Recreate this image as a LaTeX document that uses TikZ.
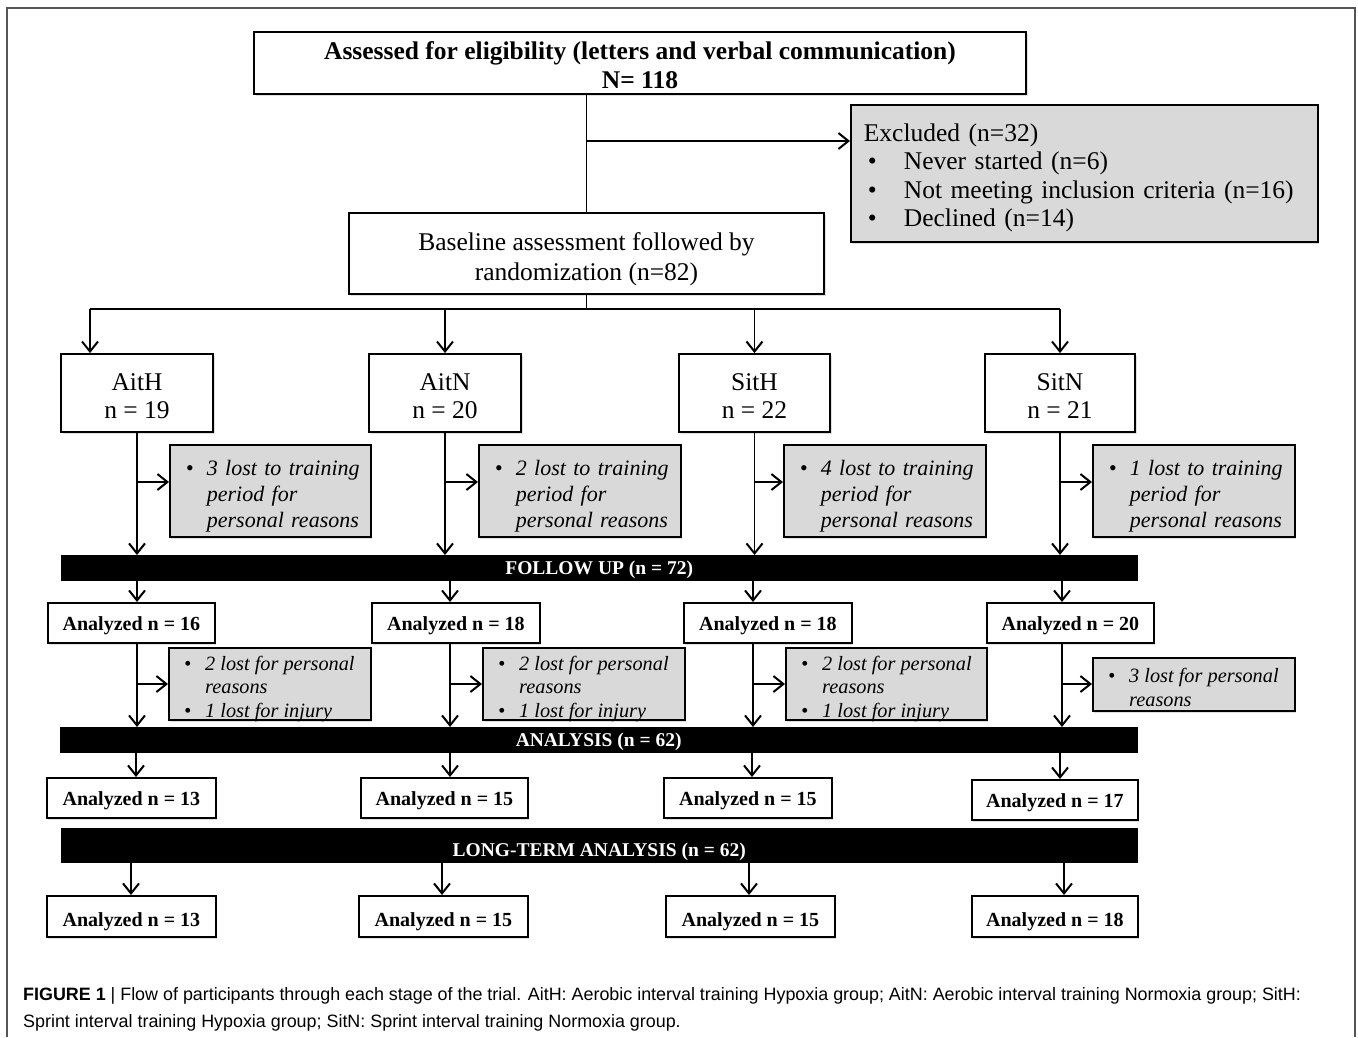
\documentclass[tikz,border=0pt]{standalone}
\usepackage{fontspec}
\setmainfont{Liberation Serif}
\newfontfamily\capfont{Liberation Sans}
\usetikzlibrary{arrows.meta,shadows}
\definecolor{boxgray}{RGB}{217,217,217}
\definecolor{framegray}{RGB}{85,85,85}
\newcommand\dn[1]{\rule{0pt}{#1}}
\begin{document}
\begin{tikzpicture}[x=1pt,y=-1pt,
  shadowed/.style={drop shadow={shadow xshift=1.5pt,shadow yshift=-2pt,opacity=0.25}},
  box/.style={draw=black,line width=1.8pt,fill=white,inner sep=0pt,align=center,shadowed},
  tlbox/.style={box,anchor=north west},
  graybox/.style={draw=black,line width=1.8pt,fill=boxgray,anchor=north west,inner ysep=0pt,align=left,shadowed},
  gbox/.style={draw=black,line width=1.8pt,fill=boxgray,anchor=north west,inner sep=0pt,shadowed},
  ttext/.style={anchor=base west,inner sep=0pt,font=\fontsize{20.3}{23.5}\selectfont\itshape},
  bar/.style={fill=black,draw=black,anchor=north west,inner sep=0pt,text=white,font=\fontsize{19.5}{22}\selectfont\bfseries},
  grp/.style={box,font=\fontsize{25.5}{28}\selectfont},
  anl/.style={tlbox,font=\fontsize{20}{24}\selectfont\bfseries},
  sidea/.style={graybox,inner xsep=15pt,font=\fontsize{22}{26}\selectfont\itshape},
  line/.style={line width=1.5pt},
  arr/.style={line width=1.5pt,-{Straight Barb[length=10pt,width=16pt,line width=2pt]}}
]
\useasboundingbox (0,0) rectangle (1358,1037);
\fill[white] (0,0) rectangle (1358,1037);
\draw[framegray,line width=2pt] (7,1037) -- (7,8) -- (1355,8) -- (1355,1037);

% top
\node[box,minimum width=772pt,minimum height=62pt,font=\fontsize{25.5}{29}\selectfont\bfseries] (top) at (640,63)
  {\dn{21.3pt}Assessed for eligibility (letters and verbal communication)\\N= 118};
\node[graybox,inner xsep=13pt,text width=441pt,minimum height=137pt,font=\fontsize{25.5}{28.5}\selectfont] (excl) at (850,104)
  {\begin{tabular}{@{\hspace{4pt}}p{36pt}@{}l@{}}
   \multicolumn{2}{@{}l@{}}{\dn{30pt}Excluded (n=32)}\\
   \textbullet & Never started (n=6)\\
   \textbullet & Not meeting inclusion criteria (n=16)\\
   \textbullet & Declined (n=14)
   \end{tabular}};
\node[box,minimum width=475pt,minimum height=81pt,font=\fontsize{25.5}{30}\selectfont] (base) at (586.5,253.5)
  {\dn{29.4pt}Baseline assessment followed by\\randomization (n=82)};

\coordinate (j1) at (586.5,141);
\draw[line] (top.south -| base.north) -- (base.north);
\draw[arr] (j1) -- (j1 -| excl.west);

% groups
\node[grp,minimum width=152pt,minimum height=78pt] (g1) at (137,393) {\dn{23pt}AitH\\n = 19};
\node[grp,minimum width=152pt,minimum height=78pt] (g2) at (445,393) {\dn{23pt}AitN\\n = 20};
\node[grp,minimum width=151pt,minimum height=78pt] (g3) at (754.5,393) {\dn{23pt}SitH\\n = 22};
\node[grp,minimum width=150pt,minimum height=78pt] (g4) at (1060,393) {\dn{23pt}SitN\\n = 21};

\coordinate (hb) at (586.5,309);
\coordinate (d1) at (90,309);
\coordinate (d4) at (1060,309);
\draw[line] (base.south) -- (hb);
\draw[line] (d1) -- (d4);
\draw[arr] (d1) -- (d1 |- g1.north);
\draw[arr] (g2.north |- hb) -- (g2.north);
\draw[arr] (g3.north |- hb) -- (g3.north);
\draw[arr] (d4) -- (g4.north);

% side boxes 1
\node[sidea,text width=171pt,minimum height=92pt] (s1) at (169,444)
  {\begin{tabular}{@{\hspace{1pt}}p{21pt}@{}l@{}}\dn{28.2pt}\textbullet & 3 lost to training\\ & period for\\ & personal reasons\end{tabular}};
\node[sidea,text width=172pt,minimum height=92pt] (s2) at (478,444)
  {\begin{tabular}{@{\hspace{1pt}}p{21pt}@{}l@{}}\dn{28.2pt}\textbullet & 2 lost to training\\ & period for\\ & personal reasons\end{tabular}};
\node[sidea,text width=172pt,minimum height=92pt] (s3) at (783,444)
  {\begin{tabular}{@{\hspace{1pt}}p{21pt}@{}l@{}}\dn{28.2pt}\textbullet & 4 lost to training\\ & period for\\ & personal reasons\end{tabular}};
\node[sidea,text width=172pt,minimum height=92pt] (s4) at (1092,444)
  {\begin{tabular}{@{\hspace{1pt}}p{21pt}@{}l@{}}\dn{28.2pt}\textbullet & 1 lost to training\\ & period for\\ & personal reasons\end{tabular}};

\node[bar,minimum width=1076pt,minimum height=25pt] (bar1) at (61,555) {\dn{17.2pt}FOLLOW UP (n = 72)};

\coordinate (ya) at (0,482);
\foreach \g/\s in {g1/s1,g2/s2,g3/s3,g4/s4}{
  \draw[arr] (\g.south) -- (\g.south |- bar1.north);
  \draw[arr] (\g.south |- ya) -- (\s.west |- ya);
}

% analyzed row 1
\node[anl,minimum width=167pt,minimum height=40pt] (a1) at (47,602) {\dn{19.5pt}Analyzed n = 16};
\node[anl,minimum width=168pt,minimum height=40pt] (a2) at (371,602) {\dn{19.5pt}Analyzed n = 18};
\node[anl,minimum width=168pt,minimum height=40pt] (a3) at (683,602) {\dn{19.5pt}Analyzed n = 18};
\node[anl,minimum width=167pt,minimum height=40pt] (a4) at (986,602) {\dn{19.5pt}Analyzed n = 20};

\coordinate (c1) at (137,0);
\coordinate (c2) at (450,0);
\coordinate (c3) at (753,0);
\coordinate (c4) at (1062,0);
\foreach \c/\a in {c1/a1,c2/a2,c3/a3,c4/a4}{
  \draw[arr] (\c |- bar1.south) -- (\c |- \a.north);
}

% side boxes 2
\node[gbox,minimum width=202pt,minimum height=72pt] (t1) at (168,647) {};
\node[gbox,minimum width=202pt,minimum height=72pt] (t2) at (482,647) {};
\node[gbox,minimum width=201pt,minimum height=72pt] (t3) at (785,647) {};
\node[gbox,minimum width=202pt,minimum height=53pt] (t4) at (1092,657) {};
\path (t1.north west) ++(16,23) node[ttext] (t1x)
  {\begin{tabular}[t]{@{}p{21pt}@{}l@{}}\textbullet & 2 lost for personal\\ & reasons\\ \textbullet & 1 lost for injury\end{tabular}};
\path (t2.north west) ++(16,23) node[ttext] (t2x)
  {\begin{tabular}[t]{@{}p{21pt}@{}l@{}}\textbullet & 2 lost for personal\\ & reasons\\ \textbullet & 1 lost for injury\end{tabular}};
\path (t3.north west) ++(16,23) node[ttext] (t3x)
  {\begin{tabular}[t]{@{}p{21pt}@{}l@{}}\textbullet & 2 lost for personal\\ & reasons\\ \textbullet & 1 lost for injury\end{tabular}};
\path (t4.north west) ++(16,25.5) node[ttext] (t4x)
  {\begin{tabular}[t]{@{}p{21pt}@{}l@{}}\textbullet & 3 lost for personal\\ & reasons\end{tabular}};

\node[bar,minimum width=1077pt,minimum height=25pt] (bar2) at (60,727) {\dn{17.2pt}ANALYSIS (n = 62)};

\coordinate (yb) at (0,684);
\foreach \c/\a/\t in {c1/a1/t1,c2/a2/t2,c3/a3/t3,c4/a4/t4}{
  \draw[arr] (\c |- \a.south) -- (\c |- bar2.north);
  \draw[arr] (\c |- yb) -- (\t.west |- yb);
}

% analyzed row 2
\node[anl,minimum width=169pt,minimum height=40pt] (b1) at (46,777) {\dn{19.5pt}Analyzed n = 13};
\node[anl,minimum width=167pt,minimum height=40pt] (b2) at (360,777) {\dn{19.5pt}Analyzed n = 15};
\node[anl,minimum width=168pt,minimum height=40pt] (b3) at (663,777) {\dn{19.5pt}Analyzed n = 15};
\node[anl,minimum width=166pt,minimum height=40pt] (b4) at (971,779) {\dn{19.5pt}Analyzed n = 17};

\coordinate (e1) at (136,0);
\coordinate (e2) at (450,0);
\coordinate (e3) at (752,0);
\coordinate (e4) at (1060,0);
\foreach \c/\b in {e1/b1,e2/b2,e3/b3,e4/b4}{
  \draw[arr] (\c |- bar2.south) -- (\c |- \b.north);
}

\node[bar,minimum width=1076pt,minimum height=34pt] (bar3) at (61,828) {\dn{27.2pt}LONG-TERM ANALYSIS (n = 62)};

% analyzed row 3
\node[anl,minimum width=169pt,minimum height=41pt] (f1) at (46,895) {\dn{23.5pt}Analyzed n = 13};
\node[anl,minimum width=169pt,minimum height=41pt] (f2) at (358,895) {\dn{23.5pt}Analyzed n = 15};
\node[anl,minimum width=169pt,minimum height=41pt] (f3) at (665,895) {\dn{23.5pt}Analyzed n = 15};
\node[anl,minimum width=166pt,minimum height=41pt] (f4) at (971,895) {\dn{23.5pt}Analyzed n = 18};

\coordinate (h1) at (131,0);
\coordinate (h2) at (442,0);
\coordinate (h3) at (749,0);
\coordinate (h4) at (1064,0);
\foreach \c/\f in {h1/f1,h2/f2,h3/f3,h4/f4}{
  \draw[arr] (\c |- bar3.south) -- (\c |- \f.north);
}

% caption
\node[anchor=north west,inner sep=0pt,align=left,font=\capfont\fontsize{17.9}{27}\selectfont] (cap) at (23,987)
  {\textbf{FIGURE 1} | Flow of participants through each stage of the trial. AitH: Aerobic interval training Hypoxia group; AitN: Aerobic interval training Normoxia group; SitH:\\
   Sprint interval training Hypoxia group; SitN: Sprint interval training Normoxia group.};
\end{tikzpicture}
\end{document}
